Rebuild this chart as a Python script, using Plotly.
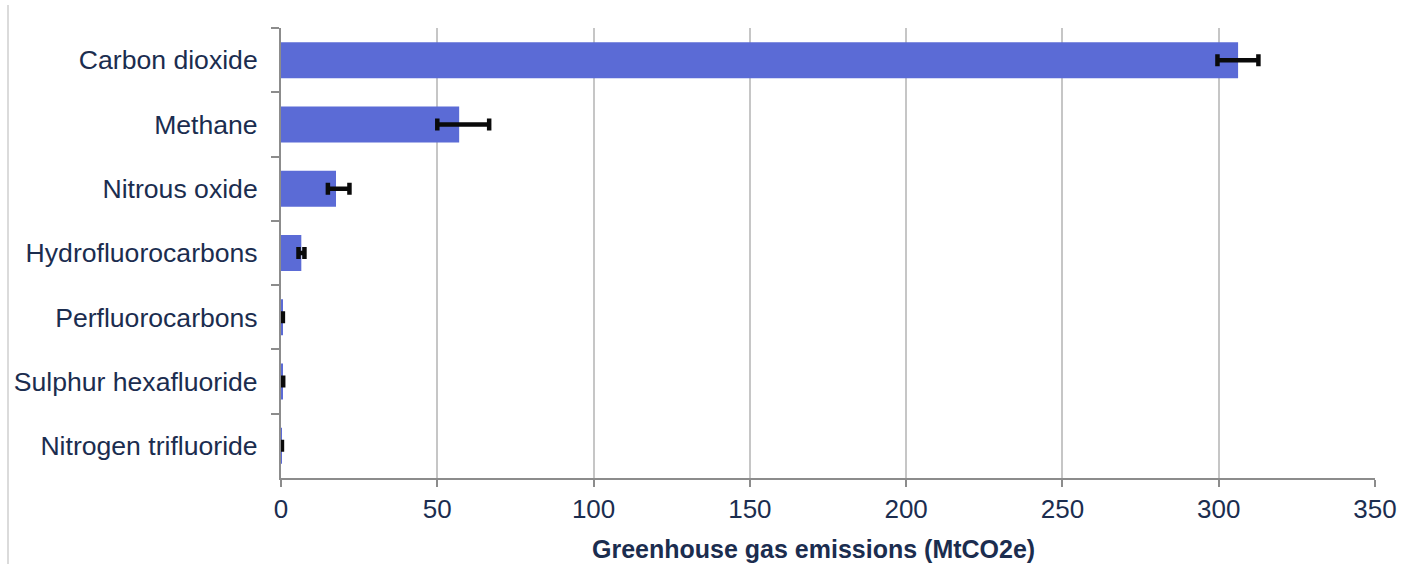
import plotly.graph_objects as go

# Emissions by gas, MtCO2e, with asymmetric uncertainty ranges
gases = [
    "Carbon dioxide",
    "Methane",
    "Nitrous oxide",
    "Hydrofluorocarbons",
    "Perfluorocarbons",
    "Sulphur hexafluoride",
    "Nitrogen trifluoride",
]
emissions = [306.2, 57.0, 17.6, 6.5, 0.4, 0.5, 0.2]
err_plus = [6.5, 9.6, 4.3, 1.0, 0.2, 0.2, 0.1]
err_minus = [6.6, 7.0, 2.6, 0.9, 0.2, 0.2, 0.1]

x_ticks = [0, 50, 100, 150, 200, 250, 300, 350]

text_color = "#1b2d4f"
font_family = "Liberation Sans, Arial, sans-serif"

fig = go.Figure(
    go.Bar(
        x=emissions,
        y=gases,
        orientation="h",
        width=0.56,
        marker=dict(color="#5b6bd6", line=dict(width=0)),
        error_x=dict(
            type="data",
            symmetric=False,
            array=err_plus,
            arrayminus=err_minus,
            color="#0a0a0a",
            thickness=4.5,
            width=6,
        ),
    )
)

fig.update_layout(
    width=1415,
    height=564,
    margin=dict(l=281, r=40, t=28, b=86),
    paper_bgcolor="white",
    plot_bgcolor="white",
    showlegend=False,
    font=dict(family=font_family, color=text_color, size=26),
    xaxis=dict(
        range=[0, 350],
        tickvals=x_ticks,
        ticktext=[str(v) for v in x_ticks],
        showgrid=True,
        gridcolor="#c6c6c6",
        gridwidth=2,
        zeroline=False,
        showline=True,
        linecolor="#8c8c8c",
        linewidth=2,
        ticks="outside",
        ticklen=7,
        tickwidth=2,
        tickcolor="#8c8c8c",
        tickfont=dict(size=26, color=text_color),
    ),
    yaxis=dict(
        autorange="reversed",
        showgrid=False,
        showline=True,
        linecolor="#8c8c8c",
        linewidth=2,
        ticks="outside",
        tickson="boundaries",
        ticklen=8,
        tickwidth=2,
        tickcolor="#8c8c8c",
        ticklabelstandoff=16,
        tickfont=dict(size=26.6, color=text_color),
    ),
    annotations=[
        dict(
            text="<b>Greenhouse gas emissions (MtCO2e)</b>",
            xref="paper",
            yref="paper",
            x=(813 - 281) / (1375 - 281),
            y=-0.158,
            xanchor="center",
            yanchor="middle",
            showarrow=False,
            font=dict(size=25, color=text_color, family=font_family),
        )
    ],
    shapes=[
        dict(
            type="line",
            xref="paper",
            yref="paper",
            x0=-(281 - 8) / (1375 - 281),
            x1=-(281 - 8) / (1375 - 281),
            y0=-(564 - 478) / (478 - 28),
            y1=1 + (28 - 5) / (478 - 28),
            line=dict(color="#cfcfcf", width=1.5),
        )
    ],
)

fig.write_html("out.html")
